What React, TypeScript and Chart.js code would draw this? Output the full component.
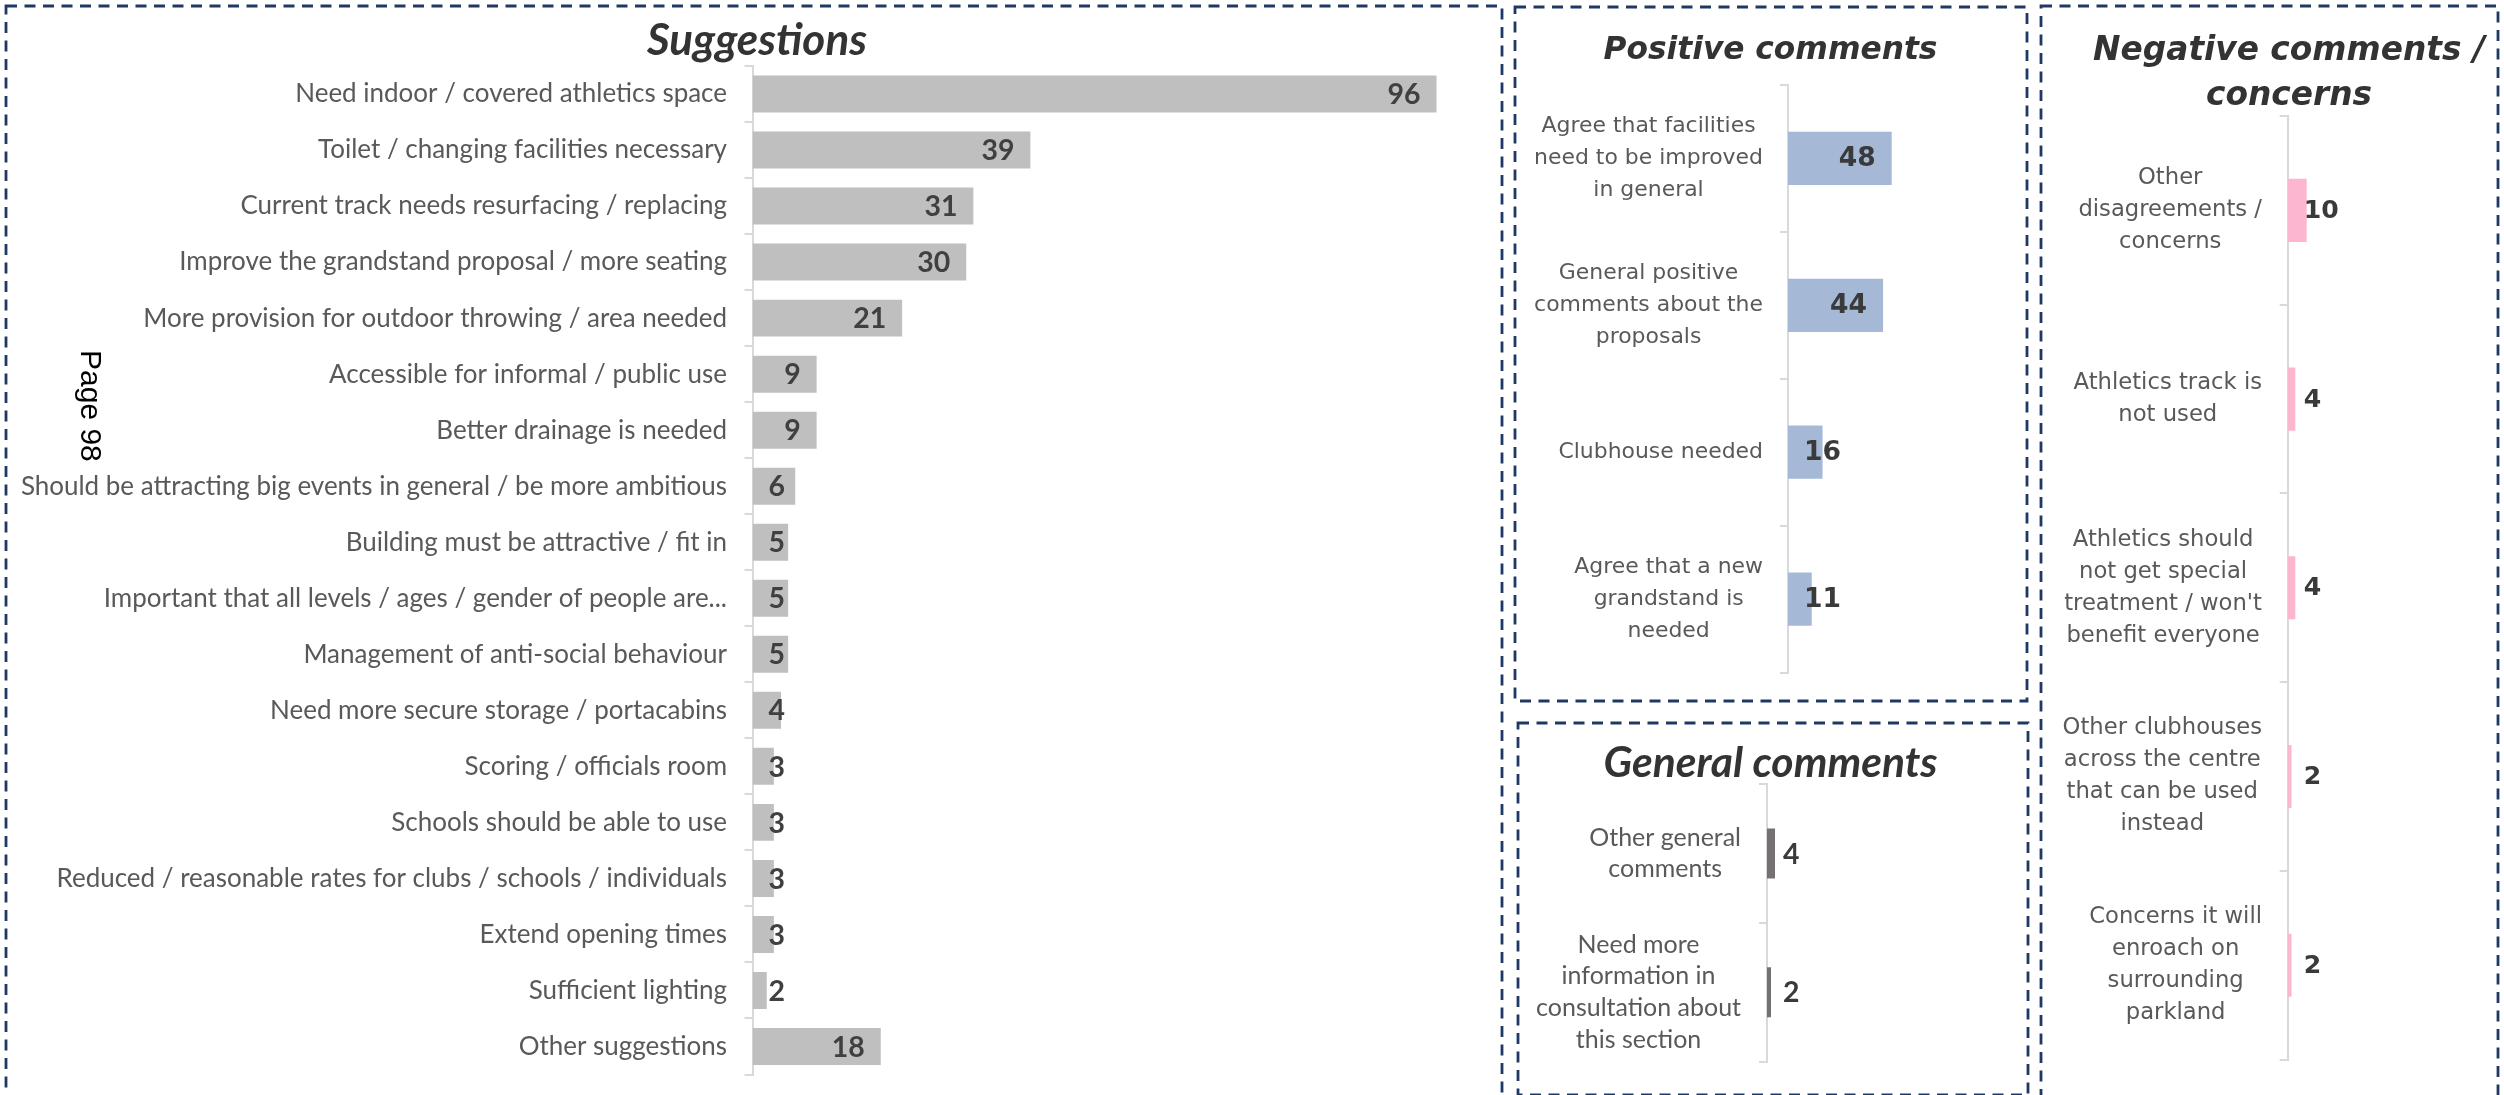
import React, { useEffect, useRef, useMemo } from 'react';
import { Chart, registerables } from 'chart.js';

Chart.register(...registerables);

// ---------------- DATA ----------------
const suggestionLabels: string[] = [
  'Need indoor / covered athletics space',
  'Toilet / changing facilities necessary',
  'Current track needs resurfacing / replacing',
  'Improve the grandstand proposal / more seating',
  'More provision for outdoor throwing / area needed',
  'Accessible for informal / public use',
  'Better drainage is needed',
  'Should be attracting big events in general / be more ambitious',
  'Building must be attractive / fit in',
  'Important that all levels / ages / gender of people are...',
  'Management of anti-social behaviour',
  'Need more secure storage / portacabins',
  'Scoring / officials room',
  'Schools should be able to use',
  'Reduced / reasonable rates for clubs / schools / individuals',
  'Extend opening times',
  'Sufficient lighting',
  'Other suggestions',
];
const suggestionValues: number[] = [96, 39, 31, 30, 21, 9, 9, 6, 5, 5, 5, 4, 3, 3, 3, 3, 2, 18];

const positiveLabels: string[][] = [
  ['Agree that facilities', 'need to be improved', 'in general'],
  ['General positive', 'comments about the', 'proposals'],
  ['Clubhouse needed'],
  ['Agree that a new', 'grandstand is', 'needed'],
];
const positiveValues: number[] = [48, 44, 16, 11];

const generalLabels: string[][] = [
  ['Other general', 'comments'],
  ['Need more', 'information in', 'consultation about', 'this section'],
];
const generalValues: number[] = [4, 2];

const negativeLabels: string[][] = [
  ['Other', 'disagreements /', 'concerns'],
  ['Athletics track is', 'not used'],
  ['Athletics should', 'not get special', "treatment / won't", 'benefit everyone'],
  ['Other clubhouses', 'across the centre', 'that can be used', 'instead'],
  ['Concerns it will', 'enroach on', 'surrounding', 'parkland'],
];
const negativeValues: number[] = [10, 4, 4, 2, 2];

const titles = {
  suggestions: 'Suggestions',
  positive: 'Positive comments',
  general: 'General comments',
  negative: ['Negative comments /', 'concerns'],
};
const pageNote = 'Page 98';

// ---------------- STYLE HELPERS ----------------
const CAL = 'Lato, Carlito, sans-serif';
const VER = '"DejaVu Sans", Verdana, sans-serif';

let mctx: CanvasRenderingContext2D | null = null;
function fit(style: string, family: string, text: string, target: number): number {
  if (!mctx) mctx = document.createElement('canvas').getContext('2d');
  mctx!.font = `${style} 100px ${family}`;
  const w = mctx!.measureText(text).width || 100;
  return (100 * target) / w;
}

type Cfg = {
  left: number; top: number; width: number; height: number;
  axisX: number; padTop: number; padBottom: number; padRight: number;
  max: number; barPct: number; color: string;
  labels: (string | string[])[]; values: number[];
  labelFont: string; labelColor: string; lineHeight: number; labelGap: number;
  valueFont: string; valueColor: string; valueGap: number;
};

function labelPlugin(cfg: Cfg) {
  return {
    id: 'customLabels',
    afterDraw(chart: any) {
      const ctx: CanvasRenderingContext2D = chart.ctx;
      const scale = chart.scales.y;
      ctx.save();
      // category labels
      ctx.font = cfg.labelFont;
      ctx.fillStyle = cfg.labelColor;
      ctx.textAlign = 'center';
      ctx.textBaseline = 'middle';
      cfg.labels.forEach((lab, i) => {
        const lines = Array.isArray(lab) ? lab : [lab];
        const yc = scale.getPixelForValue(i);
        const bw = Math.max(...lines.map((l) => ctx.measureText(l).width));
        const cx = scale.right - cfg.labelGap - bw / 2;
        lines.forEach((l, j) => {
          ctx.fillText(l, cx, yc + (j - (lines.length - 1) / 2) * cfg.lineHeight);
        });
      });
      // value labels
      ctx.font = cfg.valueFont;
      ctx.fillStyle = cfg.valueColor;
      ctx.textAlign = 'left';
      const meta = chart.getDatasetMeta(0);
      meta.data.forEach((bar: any, i: number) => {
        const p = bar.getProps(['x', 'y', 'base'], true);
        const txt = String(cfg.values[i]);
        const w = ctx.measureText(txt).width;
        const x = Math.max(p.x - cfg.valueGap - w, p.base + cfg.valueGap);
        ctx.fillText(txt, x, p.y + 1);
      });
      ctx.restore();
    },
  };
}

function makeChart(canvas: HTMLCanvasElement, cfg: Cfg) {
  return new Chart(canvas, {
    type: 'bar',
    data: {
      labels: cfg.labels as any,
      datasets: [
        {
          data: cfg.values,
          backgroundColor: cfg.color,
          borderWidth: 0,
          barPercentage: cfg.barPct,
          categoryPercentage: 1,
        },
      ],
    },
    options: {
      indexAxis: 'y',
      animation: false,
      responsive: false,
      events: [],
      layout: { padding: { left: 0, top: cfg.padTop, bottom: cfg.padBottom, right: cfg.padRight } },
      plugins: { legend: { display: false }, tooltip: { enabled: false }, title: { display: false } },
      scales: {
        x: { display: false, min: 0, max: cfg.max },
        y: {
          position: 'left',
          afterFit: (s: any) => { s.width = cfg.axisX; },
          ticks: { display: false },
          grid: {
            display: true,
            drawOnChartArea: false,
            drawTicks: true,
            tickLength: 8,
            color: '#d9d9d9',
            lineWidth: 2,
            offset: true,
          },
          border: { display: true, color: '#d9d9d9', width: 2 },
        },
      },
    } as any,
    plugins: [labelPlugin(cfg)],
  });
}

export default function App() {
  const r1 = useRef<HTMLCanvasElement>(null);
  const r2 = useRef<HTMLCanvasElement>(null);
  const r3 = useRef<HTMLCanvasElement>(null);
  const r4 = useRef<HTMLCanvasElement>(null);

  const sizes = useMemo(() => ({
    sugTitle: fit('italic bold', CAL, titles.suggestions, 220),
    genTitle: fit('italic bold', CAL, titles.general, 334),
    posTitle: fit('italic bold', VER, titles.positive, 334),
    negTitle: fit('italic bold', VER, titles.negative[0], 392),
    sugLabel: fit('normal', CAL, 'Need indoor / covered athletics space', 432),
    genLabel: fit('normal', CAL, 'consultation about', 205),
    calValue: fit('bold', CAL, '96', 33),
    posLabel: fit('normal', VER, 'comments about the', 229),
    negLabel: fit('normal', VER, "treatment / won't", 198),
    posValue: fit('bold', VER, '48', 37),
    negValue: fit('bold', VER, '10', 35),
  }), []);

  const panels: Cfg[] = [
    {
      left: 8, top: 60, width: 1490, height: 1035,
      axisX: 744.5, padTop: 6, padBottom: 20.5, padRight: 33,
      max: 100, barPct: 0.66, color: '#BFBFBF',
      labels: suggestionLabels, values: suggestionValues,
      labelFont: `normal ${sizes.sugLabel}px ${CAL}`, labelColor: '#595959', lineHeight: 30, labelGap: 25.5,
      valueFont: `bold ${sizes.calValue}px ${CAL}`, valueColor: '#404040', valueGap: 16,
    },
    {
      left: 1515, top: 80, width: 512, height: 610,
      axisX: 273, padTop: 5, padBottom: 17.5, padRight: 23,
      max: 100, barPct: 0.363, color: '#A5B9D6',
      labels: positiveLabels, values: positiveValues,
      labelFont: `normal ${sizes.posLabel}px ${VER}`, labelColor: '#595959', lineHeight: 32, labelGap: 25,
      valueFont: `bold ${sizes.posValue}px ${VER}`, valueColor: '#3a3a3a', valueGap: 16,
    },
    {
      left: 1518, top: 778, width: 510, height: 300,
      axisX: 249, padTop: 6, padBottom: 16.3, padRight: 61,
      max: 100, barPct: 0.36, color: '#767171',
      labels: generalLabels, values: generalValues,
      labelFont: `normal ${sizes.genLabel}px ${CAL}`, labelColor: '#595959', lineHeight: 31.7, labelGap: 26,
      valueFont: `bold ${sizes.calValue}px ${CAL}`, valueColor: '#3a3a3a', valueGap: 16,
    },
    {
      left: 2043, top: 108, width: 453, height: 987,
      axisX: 244.7, padTop: 8, padBottom: 35.3, padRight: 18.3,
      max: 100, barPct: 0.334, color: '#FDB6CF',
      labels: negativeLabels, values: negativeValues,
      labelFont: `normal ${sizes.negLabel}px ${VER}`, labelColor: '#595959', lineHeight: 32, labelGap: 25.7,
      valueFont: `bold ${sizes.negValue}px ${VER}`, valueColor: '#3a3a3a', valueGap: 16,
    },
  ];

  useEffect(() => {
    document.body.style.margin = '0';
    document.body.style.overflow = 'hidden';
    const refs = [r1, r2, r3, r4];
    const charts = refs.map((r, i) => makeChart(r.current!, panels[i]));
    return () => charts.forEach((c) => c.destroy());
  }, []);

  const refs = [r1, r2, r3, r4];
  const border = { fill: 'none', stroke: '#1F3864', strokeWidth: 2.8, strokeDasharray: '11 7.5' };

  return (
    <div style={{ position: 'absolute', left: 0, top: 0, width: 2504, height: 1095, overflow: 'hidden', background: '#ffffff' }}>
      {panels.map((p, i) => (
        <canvas
          key={i}
          ref={refs[i]}
          width={p.width}
          height={p.height}
          style={{ position: 'absolute', left: p.left, top: p.top, width: p.width, height: p.height, display: 'block' }}
        />
      ))}
      <svg width={2504} height={1095} style={{ position: 'absolute', left: 0, top: 0, pointerEvents: 'none' }}>
        <rect x={6} y={6} width={1496} height={1200} {...border} />
        <rect x={1515} y={7} width={512} height={694} {...border} />
        <rect x={1518} y={723} width={510} height={372} {...border} />
        <rect x={2041} y={6} width={457} height={1200} {...border} />
        <text x={757} y={55} textAnchor="middle" fontFamily={CAL} fontStyle="italic" fontWeight="bold" fontSize={sizes.sugTitle} fill="#333333">{titles.suggestions}</text>
        <text x={1770.5} y={59} textAnchor="middle" fontFamily={VER} fontStyle="italic" fontWeight="bold" fontSize={sizes.posTitle} fill="#333333">{titles.positive}</text>
        <text x={1770.5} y={777} textAnchor="middle" fontFamily={CAL} fontStyle="italic" fontWeight="bold" fontSize={sizes.genTitle} fill="#333333">{titles.general}</text>
        <text x={2289} y={60} textAnchor="middle" fontFamily={VER} fontStyle="italic" fontWeight="bold" fontSize={sizes.negTitle} fill="#333333">{titles.negative[0]}</text>
        <text x={2289} y={105} textAnchor="middle" fontFamily={VER} fontStyle="italic" fontWeight="bold" fontSize={sizes.negTitle} fill="#333333">{titles.negative[1]}</text>
        <text transform="translate(81,350) rotate(90)" fontFamily='"Liberation Sans", Arial, sans-serif' fontSize={30} fill="#000000">{pageNote}</text>
      </svg>
    </div>
  );
}
